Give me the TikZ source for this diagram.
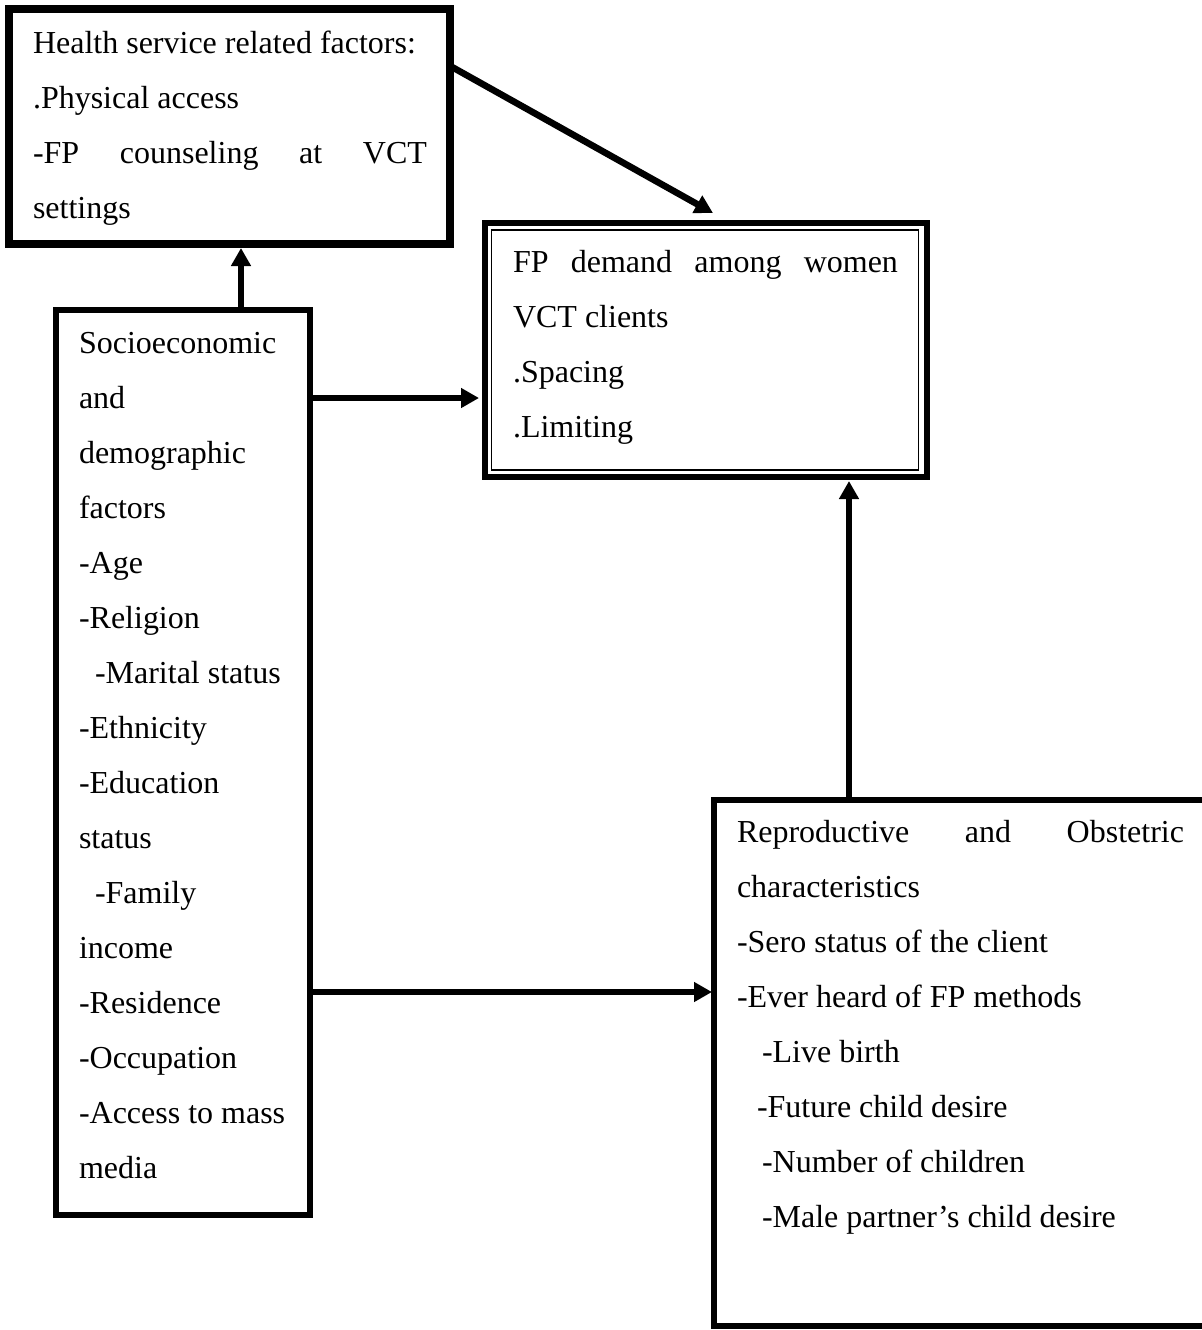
\documentclass[tikz,border=0pt]{standalone}
\usepackage{fontspec}
\setmainfont{Liberation Serif}
\usetikzlibrary{arrows.meta,calc}
\tikzset{
  boxnode/.style={draw=black, rectangle, inner sep=0pt, outer sep=0pt, line width=3.2pt},
  txtnode/.style={inner sep=0pt, outer sep=0pt, anchor=base west},
  arr/.style={line width=3.3pt, -{Triangle[length=9pt,width=9.5pt]}},
}
\newcommand{\linesbox}[2]{\parbox[t]{#1}{\fontsize{16pt}{27.5pt}\selectfont #2}}
\begin{document}
\begin{tikzpicture}[x=0.5pt,y=-0.5pt]
\useasboundingbox (0,0) rectangle (1202,1330);
\clip (0,0) rectangle (1202,1330);
\fill[white] (0,0) rectangle (1202,1330);

% boxes
\node[boxnode, line width=3.6pt, minimum width=220.5pt, minimum height=117.5pt] (hs) at (229.5,126.5) {};
\node[boxnode, minimum width=127pt, minimum height=452.5pt] (se) at (183,762.5) {};
\node[boxnode, line width=3.4pt, minimum width=221pt, minimum height=127pt] (fp) at (706,350) {};
\draw[line width=0.8pt] ([shift={(3.3pt,-3.5pt)}]fp.north west) rectangle ([shift={(-4.3pt,3.5pt)}]fp.south east);
\node[boxnode, minimum width=263pt, minimum height=263pt] (rp) at (977,1063) {};

% texts
\node[txtnode] (hst) at (33,53) {\linesbox{205pt}{Health service related factors:\\
.Physical access\\
\makebox[197pt][s]{-FP counseling at VCT}\\
settings}};

\node[txtnode] (fpt) at (513,272) {\linesbox{200pt}{\makebox[192.5pt][s]{FP demand among women}\\
VCT clients\\
.Spacing\\
.Limiting}};

\node[txtnode] (set) at (79,353) {\linesbox{120pt}{Socioeconomic\\
and\\
demographic\\
factors\\
-Age\\
-Religion\\
\hspace*{8pt}-Marital status\\
-Ethnicity\\
-Education\\
status\\
\hspace*{8pt}-Family\\
income\\
-Residence\\
-Occupation\\
-Access to mass\\
media}};

\node[txtnode] (rpt) at (737,842) {\linesbox{230pt}{\makebox[223.5pt][s]{Reproductive and Obstetric}\\
characteristics\\
-Sero status of the client\\
-Ever heard of FP methods\\
\hspace*{12.5pt}-Live birth\\
\hspace*{10pt}-Future child desire\\
\hspace*{12.5pt}-Number of children\\
\hspace*{12.5pt}-Male partner’s child desire}};

% connectors
\coordinate (a1) at ($(se.north)+(58,0)$);
\draw[arr, shorten >=2pt] (a1) -- (a1 |- hs.south);

\coordinate (a2) at ($(se.north east)+(0,88)$);
\draw[arr, shorten >=3pt] (a2) -- (a2 -| fp.west);

\coordinate (a3) at ($(se.north east)+(0,682)$);
\draw[arr, shorten >=1pt] (a3) -- (a3 -| rp.west);

\coordinate (a4) at ($(rp.north west)+(135,0)$);
\draw[arr, shorten >=2pt] (a4) -- (a4 |- fp.south);

\coordinate (a5) at ($(hs.north east)+(2,58)$);
\coordinate (a6) at ($(fp.north)+(7,-10)$);
\draw[arr] (a5) -- (a6);
\end{tikzpicture}
\end{document}
